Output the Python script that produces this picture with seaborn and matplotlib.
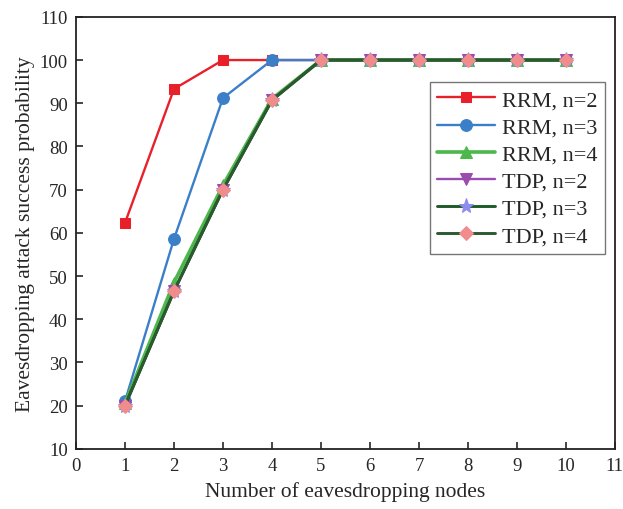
import numpy as np
import pandas as pd
import matplotlib
matplotlib.use("Agg")
import matplotlib.pyplot as plt
import seaborn as sns

sns.set_style("ticks")
plt.rcParams['font.family'] = ['Liberation Serif', 'DejaVu Serif']

# data
nodes = [1, 2, 3, 4, 5, 6, 7, 8, 9, 10]
rrm_n2 = [62.3, 93.3, 100, 100, 100, 100, 100, 100, 100, 100]
rrm_n3 = [21.0, 58.6, 91.2, 100, 100, 100, 100, 100, 100, 100]
rrm_n4 = [20.5, 48.5, 71.0, 91.0, 100, 100, 100, 100, 100, 100]
tdp_n2 = [20.0, 46.5, 70.0, 90.7, 100, 100, 100, 100, 100, 100]
tdp_n3 = [20.0, 46.5, 70.0, 90.7, 100, 100, 100, 100, 100, 100]
tdp_n4 = [20.0, 46.5, 70.0, 90.7, 100, 100, 100, 100, 100, 100]

series = [
    ("RRM, n=2", rrm_n2, "#e8202a", "#e8202a", "s", 7.5, 1.7),
    ("RRM, n=3", rrm_n3, "#3a7fc8", "#3a7fc8", "o", 8.5, 1.7),
    ("RRM, n=4", rrm_n4, "#4cb84c", "#4cb84c", "^", 8.5, 2.6),
    ("TDP, n=2", tdp_n2, "#9a4cb0", "#9a4cb0", "v", 8.5, 1.7),
    ("TDP, n=3", tdp_n3, "#1e5a28", "#8c8cf0", "*", 11, 2.1),
    ("TDP, n=4", tdp_n4, "#2a5a2e", "#f08c8c", "D", 7.5, 2.1),
]

fig = plt.figure(figsize=(6.23, 5.10), dpi=100)
ax = fig.add_axes([0.122, 0.118, 0.865, 0.847])

for label, vals, lc, mc, mk, ms, lw in series:
    df = pd.DataFrame({"x": nodes, "y": vals})
    sns.lineplot(data=df, x="x", y="y", ax=ax, color=lc, marker=mk,
                 markersize=ms, markerfacecolor=mc, markeredgecolor=mc,
                 linewidth=lw, label=label)

ax.set_xlim(0, 11)
ax.set_ylim(10, 110)
ax.set_xticks(np.arange(0, 12, 1))
ax.set_yticks(np.arange(10, 111, 10))
ax.tick_params(direction='in', length=5, width=1.2, labelsize=13.5, pad=6)
for s in ax.spines.values():
    s.set_linewidth(1.3)
    s.set_color("#222222")

ax.set_xlabel("Number of eavesdropping nodes", fontsize=15.5, labelpad=5)
ax.set_ylabel("Eavesdropping attack success probability", fontsize=15.5, labelpad=3)

leg = ax.legend(loc="upper right", bbox_to_anchor=(0.99, 0.86), fontsize=16,
                fancybox=False, frameon=True, edgecolor="#555555",
                handlelength=2.6, borderpad=0.35, labelspacing=0.3,
                handletextpad=0.3, borderaxespad=0.2)
leg.get_frame().set_linewidth(1.0)

fig.savefig("out.png", dpi=100)
